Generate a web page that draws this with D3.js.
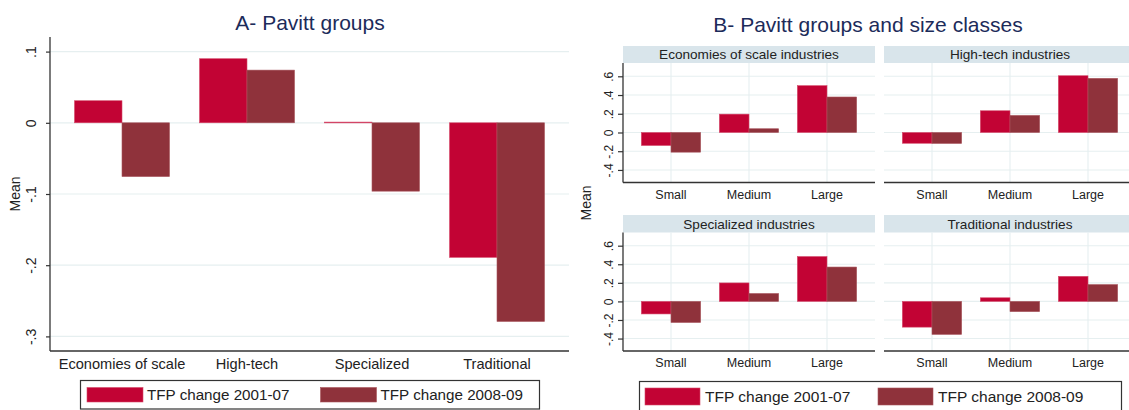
<!DOCTYPE html>
<html><head><meta charset="utf-8">
<script src="https://cdn.jsdelivr.net/npm/d3@7"></script>
<style>
html,body{margin:0;padding:0;background:#fff;}
svg{display:block;font-family:"Liberation Sans",Arial,Helvetica,sans-serif;}
</style></head>
<body>
<svg id="chart" width="1129" height="410"></svg>
<script>
// ---------- data ----------
const seriesNames = ["TFP change 2001-07", "TFP change 2008-09"];
const groupsA = ["Economies of scale", "High-tech", "Specialized", "Traditional"];
const tfp0107A = [0.031, 0.090, 0.001, -0.189];
const tfp0809A = [-0.0755, 0.074, -0.096, -0.279];
const ticksA = [0.1, 0, -0.1, -0.2, -0.3];
const tickLabelsA = [".1", "0", "-.1", "-.2", "-.3"];

const panelsB = ["Economies of scale industries", "High-tech industries", "Specialized industries", "Traditional industries"];
const sizes = ["Small", "Medium", "Large"];
const tfp0107B = [[-0.139, 0.196, 0.500], [-0.115, 0.232, 0.606], [-0.135, 0.199, 0.483], [-0.277, 0.039, 0.270]];
const tfp0809B = [[-0.210, 0.040, 0.379], [-0.117, 0.182, 0.578], [-0.227, 0.085, 0.370], [-0.355, -0.110, 0.181]];
const ticksB = [0.6, 0.4, 0.2, 0, -0.2, -0.4];
const tickLabelsB = [".6", ".4", ".2", "0", "-.2", "-.4"];

const colors = ["#c20334", "#8f323b"];
const strokes = ["#d54a6a", "#a8555d"];
const gridColor = "#e6eff0";
const axisColor = "#333";
const titleColor = "#1c2b5a";
const textColor = "#222";

const svg = d3.select("#chart");

// ---------- Panel A ----------
(function(){
  const x0 = 50, x1 = 569, yTop = 37, yBot = 351;
  const x = d3.scaleBand().domain(groupsA).range([x0, x1]).paddingInner(0.24).paddingOuter(0.196);
  const xs = d3.scaleBand().domain(seriesNames).range([0, x.bandwidth()]);
  const y = d3.scaleLinear().domain([-0.3205, 0.1205]).range([yBot, yTop]);
  const g = svg.append("g");

  g.selectAll("line.grid").data(ticksA).enter().append("line")
    .attr("x1", x0).attr("x2", x1).attr("y1", d => y(d)).attr("y2", d => y(d))
    .attr("stroke", gridColor).attr("stroke-width", 1.2);

  const rows = groupsA.map((c, i) => [
    {c, s: seriesNames[0], v: tfp0107A[i], k: 0},
    {c, s: seriesNames[1], v: tfp0809A[i], k: 1}]).flat();
  g.selectAll("rect.bar").data(rows).enter().append("rect")
    .attr("x", d => x(d.c) + xs(d.s)).attr("width", xs.bandwidth())
    .attr("y", d => y(Math.max(0, d.v))).attr("height", d => Math.max(0.8, Math.abs(y(d.v) - y(0))))
    .attr("fill", d => colors[d.k]).attr("stroke", d => strokes[d.k]).attr("stroke-width", 0.6);

  const ya = d3.axisLeft(y).tickValues(ticksA).tickSize(4).tickFormat((d, i) => tickLabelsA[i]);
  const ag = g.append("g").attr("transform", `translate(${x0},0)`).call(ya);
  ag.select(".domain").attr("d", `M0,${yTop}V${yBot}`).attr("stroke", axisColor).attr("stroke-width", 1.3);
  ag.selectAll(".tick line").attr("stroke", axisColor).attr("stroke-width", 1.2);
  ag.selectAll(".tick text").attr("transform", "rotate(-90)").attr("x", 0).attr("y", -14)
    .attr("dy", "0").attr("text-anchor", "middle").attr("font-size", 14).attr("fill", textColor);

  g.append("line").attr("x1", x0).attr("x2", x1).attr("y1", yBot).attr("y2", yBot)
    .attr("stroke", axisColor).attr("stroke-width", 1.3);

  g.selectAll("text.xl").data(groupsA).enter().append("text")
    .attr("x", d => x(d) + x.bandwidth() / 2).attr("y", 369)
    .attr("text-anchor", "middle").attr("font-size", 14.6).attr("fill", textColor).text(d => d);

  g.append("text").attr("transform", "translate(20,194) rotate(-90)")
    .attr("text-anchor", "middle").attr("font-size", 14).attr("fill", textColor).text("Mean");

  g.append("text").attr("x", 310).attr("y", 30).attr("text-anchor", "middle")
    .attr("font-size", 21).attr("fill", titleColor).text("A- Pavitt groups");

  // legend
  g.append("rect").attr("x", 80.5).attr("y", 380.5).attr("width", 459).attr("height", 28.5)
    .attr("fill", "none").attr("stroke", "#333").attr("stroke-width", 1.2);
  const lx = [87, 320.5];
  seriesNames.forEach((s, i) => {
    g.append("rect").attr("x", lx[i]).attr("y", 387.5).attr("width", 56).attr("height", 14.5)
      .attr("fill", colors[i]).attr("stroke", strokes[i]).attr("stroke-width", 0.6);
    g.append("text").attr("x", lx[i] + 60).attr("y", 400).attr("font-size", 15.2)
      .attr("fill", textColor).text(s);
  });
})();

// ---------- Panel B ----------
(function(){
  const colX = [623, 884], pw = 252;
  const rowY = [{s: 46, top: 63, bot: 182.5}, {s: 215, top: 232.5, bot: 351}];
  const g = svg.append("g");

  panelsB.forEach((name, p) => {
    const col = p % 2, row = Math.floor(p / 2);
    const x0 = colX[col], x1 = x0 + pw, R = rowY[row];
    const x = d3.scaleBand().domain(sizes).range([x0, x1]).paddingInner(0.24).paddingOuter(0.2354);
    const xs = d3.scaleBand().domain(seriesNames).range([0, x.bandwidth()]);
    const y = d3.scaleLinear().domain([-0.534, 0.742]).range([R.bot, R.top]);
    const pg = g.append("g");

    // strip
    pg.append("rect").attr("x", x0).attr("y", R.s).attr("width", pw).attr("height", R.top - R.s)
      .attr("fill", "#d9e5eb");
    pg.append("text").attr("x", x0 + pw / 2).attr("y", (R.s + R.top) / 2).attr("dy", "0.35em")
      .attr("text-anchor", "middle").attr("font-size", 13.6).attr("fill", textColor).text(name);

    // grids
    pg.selectAll("line.gh").data(ticksB).enter().append("line")
      .attr("x1", x0).attr("x2", x1).attr("y1", d => y(d)).attr("y2", d => y(d))
      .attr("stroke", gridColor).attr("stroke-width", 1.1);
    pg.selectAll("line.gv").data(sizes).enter().append("line")
      .attr("x1", d => x(d) + x.bandwidth() / 2).attr("x2", d => x(d) + x.bandwidth() / 2)
      .attr("y1", R.top).attr("y2", R.bot)
      .attr("stroke", gridColor).attr("stroke-width", 1.1);

    const rows = sizes.map((c, i) => [
      {c, s: seriesNames[0], v: tfp0107B[p][i], k: 0},
      {c, s: seriesNames[1], v: tfp0809B[p][i], k: 1}]).flat();
    pg.selectAll("rect.bar").data(rows).enter().append("rect")
      .attr("x", d => x(d.c) + xs(d.s)).attr("width", xs.bandwidth())
      .attr("y", d => y(Math.max(0, d.v))).attr("height", d => Math.abs(y(d.v) - y(0)))
      .attr("fill", d => colors[d.k]).attr("stroke", d => strokes[d.k]).attr("stroke-width", 0.6);

    if (col === 0) {
      const ya = d3.axisLeft(y).tickValues(ticksB).tickSize(5).tickFormat((d, i) => tickLabelsB[i]);
      const ag = pg.append("g").attr("transform", `translate(${x0},0)`).call(ya);
      ag.select(".domain").attr("d", `M0,${R.top}V${R.bot}`).attr("stroke", axisColor).attr("stroke-width", 1.3);
      ag.selectAll(".tick line").attr("stroke", axisColor).attr("stroke-width", 1.2);
      ag.selectAll(".tick text").attr("transform", "rotate(-90)").attr("x", 0).attr("y", -10)
        .attr("dy", "0").attr("text-anchor", "middle").attr("font-size", 12).attr("fill", textColor);
    }
    pg.append("line").attr("x1", x0).attr("x2", x1).attr("y1", R.bot).attr("y2", R.bot)
      .attr("stroke", axisColor).attr("stroke-width", 1.3);

    pg.selectAll("text.xl").data(sizes).enter().append("text")
      .attr("x", d => x(d) + x.bandwidth() / 2).attr("y", R.bot + 16)
      .attr("text-anchor", "middle").attr("font-size", 12.5).attr("fill", textColor).text(d => d);
  });

  g.append("text").attr("transform", "translate(591,203) rotate(-90)")
    .attr("text-anchor", "middle").attr("font-size", 14).attr("fill", textColor).text("Mean");

  g.append("text").attr("x", 868).attr("y", 31.5).attr("text-anchor", "middle")
    .attr("font-size", 21).attr("fill", titleColor).text("B- Pavitt groups and size classes");

  g.append("rect").attr("x", 639.5).attr("y", 381.5).attr("width", 482).attr("height", 30)
    .attr("fill", "none").attr("stroke", "#333").attr("stroke-width", 1.2);
  const lx = [645, 878];
  seriesNames.forEach((s, i) => {
    g.append("rect").attr("x", lx[i]).attr("y", 388).attr("width", 55).attr("height", 17)
      .attr("fill", colors[i]).attr("stroke", strokes[i]).attr("stroke-width", 0.6);
    g.append("text").attr("x", lx[i] + 60).attr("y", 402).attr("font-size", 15.5)
      .attr("fill", textColor).text(s);
  });
})();
</script>
</body></html>
